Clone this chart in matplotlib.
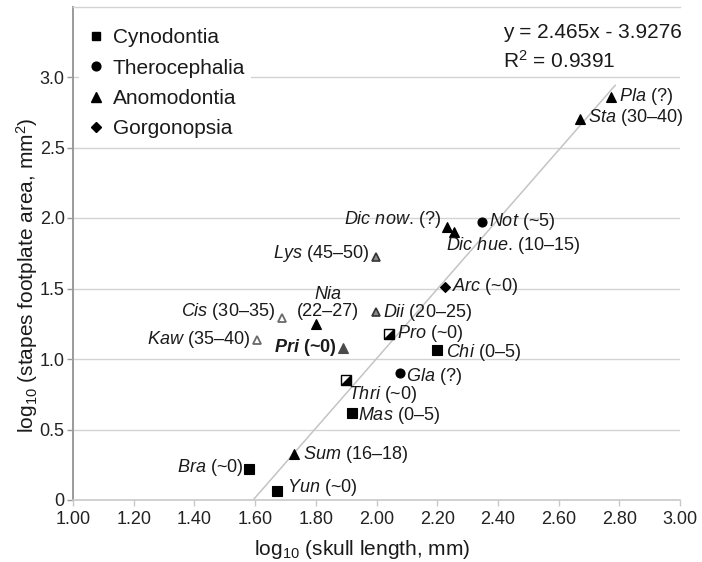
import matplotlib
matplotlib.use('Agg')
import matplotlib.pyplot as plt
from matplotlib.markers import MarkerStyle
from matplotlib.transforms import Affine2D
from matplotlib.lines import Line2D

plt.rcParams['font.family'] = ['Liberation Sans', 'DejaVu Sans']
plt.rcParams['mathtext.fontset'] = 'custom'
plt.rcParams['mathtext.rm'] = 'Liberation Sans'
plt.rcParams['mathtext.it'] = 'Liberation Sans:italic'
plt.rcParams['mathtext.bf'] = 'Liberation Sans:bold'
plt.rcParams['mathtext.bfit'] = 'Liberation Sans:italic:bold'

# ---------------- data ----------------
taxa = ['Pla', 'Sta', 'Not', 'Dic now.', 'Dic hue.', 'Lys', 'Arc', 'Dii', 'Nia',
        'Cis', 'Kaw', 'Pri', 'Pro', 'Chi', 'Gla', 'Thri', 'Mas', 'Sum', 'Bra', 'Yun']
notes = ['(?)', '(30–40)', '(~5)', '(?)', '(10–15)', '(45–50)', '(~0)', '(20–25)',
         '(22–27)', '(30–35)', '(35–40)', '(~0)', '(~0)', '(0–5)', '(?)', '(~0)',
         '(0–5)', '(16–18)', '(~0)', '(~0)']
clade = ['Anomodontia', 'Anomodontia', 'Therocephalia', 'Anomodontia', 'Anomodontia',
         'Anomodontia', 'Gorgonopsia', 'Anomodontia', 'Anomodontia', 'Anomodontia',
         'Anomodontia', 'Anomodontia', 'Cynodontia', 'Cynodontia', 'Therocephalia',
         'Cynodontia', 'Cynodontia', 'Anomodontia', 'Cynodontia', 'Cynodontia']
fill = ['solid', 'solid', 'solid', 'solid', 'solid', 'grey', 'solid', 'grey', 'solid',
        'open', 'open', 'dark', 'half', 'solid', 'solid', 'half', 'solid', 'solid',
        'solid', 'solid']
log_skull = [2.773, 2.671, 2.348, 2.232, 2.255, 1.998, 2.226, 1.998, 1.801, 1.689,
             1.606, 1.890, 2.041, 2.199, 2.077, 1.900, 1.919, 1.728, 1.580, 1.672]
log_stapes = [2.858, 2.702, 1.972, 1.936, 1.901, 1.723, 1.511, 1.333, 1.248, 1.291,
              1.135, 1.078, 1.177, 1.064, 0.901, 0.851, 0.617, 0.326, 0.220, 0.064]
slope, intercept, r2 = 2.465, -3.9276, 0.9391
legend_order = ['Cynodontia', 'Therocephalia', 'Anomodontia', 'Gorgonopsia']
xticks = [1.0, 1.2, 1.4, 1.6, 1.8, 2.0, 2.2, 2.4, 2.6, 2.8, 3.0]
xticklabels = ['1.00', '1.20', '1.40', '1.60', '1.80', '2.00', '2.20', '2.40', '2.60', '2.80', '3.00']
yticks = [0, 0.5, 1.0, 1.5, 2.0, 2.5, 3.0]
yticklabels = ['0', '0.5', '1.0', '1.5', '2.0', '2.5', '3.0']

# ---------------- layout (label offsets in pixels) ----------------
label_layout = {
    'Pla': (8, 1, 'left'), 'Sta': (8, 2, 'left'), 'Not': (7, 0, 'left'),
    'Dic now.': (-6, 8, 'right'), 'Dic hue.': (-8, -14, 'left'),
    'Lys': (-7, 4, 'right'), 'Arc': (7, 0, 'left'), 'Dii': (7, 0, 'left'),
    'Cis': (-7, 6, 'right'), 'Kaw': (-7, 0, 'right'), 'Pri': (-7, 1, 'right'),
    'Pro': (8, 1, 'left'), 'Chi': (9, -3, 'left'), 'Gla': (6, -4, 'left'),
    'Thri': (2, -14, 'left'), 'Mas': (6, -2, 'left'), 'Sum': (9, 0, 'left'),
    'Bra': (-6, 1, 'right'), 'Yun': (10, 3, 'left'),
}

base_marker = {'Cynodontia': 's', 'Therocephalia': 'o', 'Anomodontia': '^', 'Gorgonopsia': 'D'}
base_size = {'Cynodontia': 6.8, 'Therocephalia': 6.5, 'Anomodontia': 7.6, 'Gorgonopsia': 5}

fig = plt.figure(figsize=(7.02, 5.62), dpi=100, facecolor='white')
ax = fig.add_axes([73 / 702, 62 / 562, 607 / 702, 493.5 / 562])

ax.set_xlim(1.0, 3.0)
ax.set_ylim(0, 3.5)

grid_c = '#d3d3d3'
for yv in yticks[1:]:
    ax.axhline(yv, color=grid_c, lw=1.0, zorder=0)

ax.spines['right'].set_visible(False)
ax.spines['top'].set_color(grid_c)
ax.spines['top'].set_linewidth(1.0)
ax.spines['bottom'].set_color('#c8c8c8')
ax.spines['bottom'].set_linewidth(1.2)
ax.spines['left'].set_color('#9a9a9a')
ax.spines['left'].set_linewidth(1.4)

ax.set_xticks(xticks)
ax.set_xticklabels(xticklabels)
ax.set_yticks(yticks)
ax.set_yticklabels(yticklabels)
ax.tick_params(axis='x', length=4, width=1, color='#c8c8c8', labelsize=13, pad=4, labelcolor='#222222')
ax.tick_params(axis='y', length=4, width=1, color='#9a9a9a', labelsize=13, pad=2, labelcolor='#222222')

# regression line
x0 = -intercept / slope
x1 = max(log_skull) + 0.015
ax.plot([x0, x1], [slope * x0 + intercept, slope * x1 + intercept],
        color='#c4c4c4', lw=1.1, zorder=1, solid_capstyle='butt')

# points
for name, c, f, xv, yv in zip(taxa, clade, fill, log_skull, log_stapes):
    m = base_marker[c]
    ms = base_size[c]
    kw = dict(linestyle='none', zorder=3)
    if f == 'solid':
        ax.plot(xv, yv, marker=m, ms=ms, mfc='black', mec='black', mew=0.8, **kw)
    elif f == 'grey':
        ax.plot(xv, yv, marker=m, ms=6.3, mfc='#8a8a8a', mec='#333333', mew=1.2, **kw)
    elif f == 'dark':
        ax.plot(xv, yv, marker=m, ms=6.8, mfc='#4a4a4a', mec='#4a4a4a', mew=0.8, **kw)
    elif f == 'open':
        ax.plot(xv, yv, marker=m, ms=6.3, mfc='white', mec='#6a6a6a', mew=1.3, **kw)
    elif f == 'half':
        hm = MarkerStyle('D', fillstyle='bottom', transform=Affine2D().rotate_deg(45))
        ax.plot(xv, yv, marker=hm, ms=7.0, mfc='black', mfcalt='white', mec='black',
                mew=1.0, **kw)

# labels
def italic_label(name):
    tail = ''
    if name.endswith('.'):
        name, tail = name[:-1], '.'
    return name.replace(' ', r'\ '), tail

for name, note, xv, yv in zip(taxa, notes, log_skull, log_stapes):
    if name == 'Nia':
        ax.annotate(r'$\mathit{Nia}$', (xv, yv), xytext=(12, 30), textcoords='offset pixels',
                    ha='center', va='center', fontsize=13, color='#1a1a1a')
        ax.annotate(note, (xv, yv), xytext=(12, 13), textcoords='offset pixels',
                    ha='center', va='center', fontsize=13, color='#1a1a1a')
        continue
    dx, dy, ha = label_layout[name]
    nm, tail = italic_label(name)
    if name == 'Pri':
        txt = r'$\mathbfit{' + nm + '}$' + tail + ' ' + note
        weight = 'bold'
    else:
        txt = r'$\mathit{' + nm + '}$' + tail + ' ' + note
        weight = 'normal'
    ax.annotate(txt, (xv, yv), xytext=(dx, dy), textcoords='offset pixels',
                ha=ha, va='center', fontsize=13, fontweight=weight, color='#1a1a1a',
                annotation_clip=False)

# equation
ax.text(0.708, 0.948, 'y = %.3fx - %.4f' % (slope, -intercept), transform=ax.transAxes,
        ha='left', va='center', fontsize=15, color='#1a1a1a')
ax.text(0.708, 0.889, r'R$^2$ = %.4f' % r2, transform=ax.transAxes,
        ha='left', va='center', fontsize=15, color='#1a1a1a')

# legend
leg_ms = {'Cynodontia': 6.3, 'Therocephalia': 6.3, 'Anomodontia': 6.8, 'Gorgonopsia': 5.3}
handles = [Line2D([], [], linestyle='none', marker=base_marker[c], color='black', ms=leg_ms[c])
           for c in legend_order]
leg = ax.legend(handles, legend_order, loc='upper left', bbox_to_anchor=(0.0, 0.981),
                fontsize=15, frameon=True, facecolor='white', edgecolor='none',
                framealpha=1, handlelength=1.0, handletextpad=0.3, labelspacing=0.54,
                borderaxespad=0.3, borderpad=0.3)
for t in leg.get_texts():
    t.set_color('#1a1a1a')

ax.set_xlabel(r'log$_{10}$ (skull length, mm)', fontsize=15, color='#1a1a1a')
ax.set_ylabel(r'log$_{10}$ (stapes footplate area, mm$^2$)', fontsize=15, color='#1a1a1a')
ax.xaxis.set_label_coords(0.476, -0.077)
ax.yaxis.set_label_coords(-0.055, 0.455)

fig.savefig('out.png', dpi=100, facecolor='white')
